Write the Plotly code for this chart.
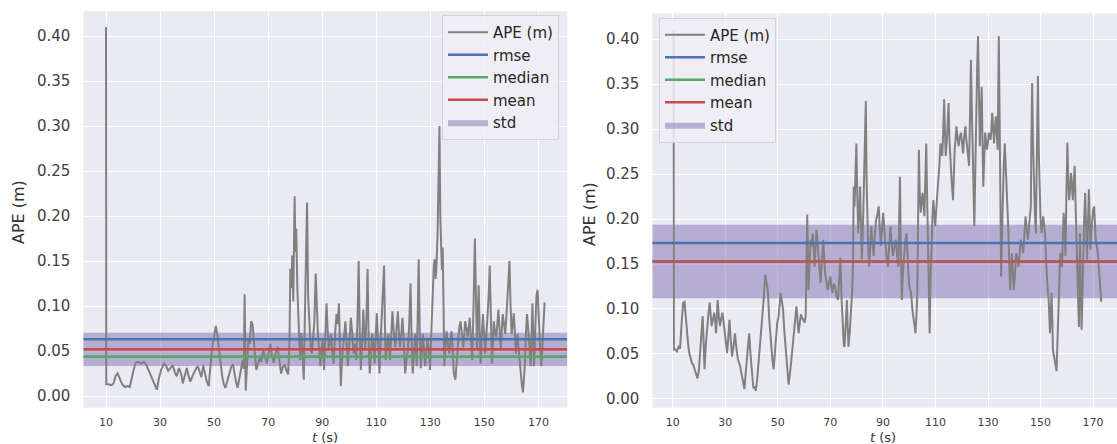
import plotly.graph_objects as go

# ---------------- data ----------------
t_left = [10.0, 10.1, 11, 12, 12.8, 13.5, 14.3, 15.2, 16, 17, 18, 18.8, 19.5, 20.3, 21, 22, 23, 24, 25, 26, 27, 28, 28.8, 29.6, 30.5, 31.5, 32.3, 33, 34, 34.7, 35.5, 36.2, 37, 37.8, 38.4, 39.2, 39.9, 40.6, 41.2, 42, 42.6, 43.4, 44, 44.7, 45.3, 46, 46.6, 47.2, 48, 48.6, 49.2, 50, 50.6, 51.2, 51.8, 52.4, 53, 53.6, 54.2, 55, 55.7, 56.4, 57, 57.6, 58.1, 58.7, 59.4, 60, 60.6, 61.0, 61.3, 61.7, 62.2, 62.7, 63.2, 63.7, 64.2, 64.7, 65.2, 65.6, 66.2, 66.9, 67.5, 68.2, 68.8, 69.5, 70.1, 70.8, 71.4, 72.1, 72.8, 73.5, 74.1, 74.8, 75.4, 76.1, 76.8, 77.4, 77.9, 78.2, 78.6, 78.9, 79.3, 79.8, 80.1, 80.4, 80.8, 81.1, 81.5, 81.8, 82.3, 82.8, 83.2, 83.6, 83.9, 84.4, 84.8, 85.3, 85.8, 86.2, 86.7, 87.1, 87.6, 88.0, 88.4, 88.9, 89.3, 89.8, 90.2, 90.7, 91.2, 91.6, 92.0, 92.4, 92.9, 93.3, 93.8, 94.2, 94.8, 95.3, 95.8, 96.2, 96.6, 96.9, 97.3, 97.7, 98.2, 98.6, 99.1, 99.5, 100.1, 100.6, 101.1, 101.6, 102.1, 102.6, 103.1, 103.5, 103.9, 104.3, 104.8, 105.2, 105.6, 105.9, 106.4, 106.8, 107.2, 107.6, 108.1, 108.5, 109.0, 109.4, 109.8, 110.2, 110.7, 111.2, 111.6, 112.0, 112.5, 112.9, 113.2, 113.5, 114.0, 114.5, 115.1, 115.5, 116.0, 116.5, 117.1, 117.5, 118.0, 118.4, 118.8, 119.3, 119.7, 120.2, 120.7, 121.2, 121.7, 122.2, 122.7, 123.1, 123.5, 124.0, 124.4, 124.7, 125.0, 125.4, 125.7, 126.1, 126.5, 126.9, 127.3, 127.7, 128.1, 128.6, 129.0, 129.5, 129.9, 130.5, 131.0, 131.3, 131.6, 132.0, 132.3, 132.7, 133.0, 133.2, 133.4, 133.7, 133.9, 134.3, 134.6, 134.9, 135.2, 135.6, 136.0, 136.5, 137.0, 137.4, 137.9, 138.3, 138.7, 139.3, 139.8, 140.2, 140.7, 141.2, 141.7, 142.2, 142.6, 142.9, 143.4, 143.8, 144.2, 144.6, 145.0, 145.5, 146.0, 146.5, 146.9, 147.3, 147.6, 147.9, 148.3, 148.6, 149.0, 149.5, 149.9, 150.3, 150.7, 151.1, 151.6, 152.0, 152.4, 152.8, 153.2, 153.5, 154.0, 154.4, 154.8, 155.2, 155.7, 156.1, 156.5, 156.8, 157.3, 157.7, 158.1, 158.5, 158.9, 159.3, 159.7, 160.1, 160.5, 160.9, 161.3, 161.7, 162.0, 162.3, 162.9, 163.4, 163.9, 164.3, 164.7, 165.0, 165.4, 165.8, 166.1, 166.4, 166.8, 167.2, 167.5, 167.8, 168.1, 168.4, 168.8, 169.3, 169.7, 170.0, 170.3, 170.7, 171.1, 171.5, 172.0, 172.3]
ape_left = [0.410, 0.013, 0.013, 0.012, 0.014, 0.022, 0.025, 0.018, 0.013, 0.010, 0.011, 0.010, 0.020, 0.030, 0.037, 0.038, 0.036, 0.038, 0.034, 0.027, 0.020, 0.014, 0.007, 0.020, 0.030, 0.036, 0.033, 0.028, 0.032, 0.034, 0.026, 0.022, 0.031, 0.025, 0.014, 0.024, 0.031, 0.022, 0.016, 0.022, 0.026, 0.031, 0.033, 0.025, 0.021, 0.034, 0.026, 0.017, 0.011, 0.030, 0.052, 0.066, 0.078, 0.068, 0.052, 0.035, 0.022, 0.013, 0.009, 0.018, 0.027, 0.033, 0.035, 0.024, 0.016, 0.009, 0.022, 0.031, 0.040, 0.030, 0.113, 0.006, 0.045, 0.064, 0.058, 0.083, 0.080, 0.060, 0.042, 0.029, 0.035, 0.042, 0.038, 0.051, 0.044, 0.036, 0.047, 0.058, 0.045, 0.037, 0.048, 0.055, 0.040, 0.025, 0.032, 0.035, 0.028, 0.024, 0.060, 0.141, 0.120, 0.156, 0.105, 0.222, 0.160, 0.186, 0.120, 0.100, 0.060, 0.040, 0.070, 0.045, 0.018, 0.090, 0.150, 0.215, 0.110, 0.072, 0.050, 0.047, 0.070, 0.083, 0.136, 0.090, 0.069, 0.050, 0.033, 0.055, 0.062, 0.029, 0.070, 0.103, 0.075, 0.051, 0.062, 0.069, 0.045, 0.036, 0.070, 0.091, 0.080, 0.103, 0.050, 0.011, 0.040, 0.058, 0.070, 0.083, 0.060, 0.033, 0.060, 0.087, 0.070, 0.047, 0.058, 0.040, 0.090, 0.150, 0.070, 0.029, 0.060, 0.096, 0.070, 0.051, 0.090, 0.141, 0.060, 0.025, 0.050, 0.069, 0.055, 0.036, 0.065, 0.092, 0.060, 0.025, 0.060, 0.091, 0.110, 0.145, 0.080, 0.040, 0.055, 0.069, 0.040, 0.070, 0.094, 0.070, 0.054, 0.075, 0.094, 0.070, 0.054, 0.070, 0.087, 0.060, 0.025, 0.040, 0.051, 0.080, 0.125, 0.060, 0.025, 0.050, 0.069, 0.050, 0.033, 0.100, 0.152, 0.070, 0.031, 0.050, 0.069, 0.050, 0.033, 0.050, 0.065, 0.050, 0.029, 0.080, 0.130, 0.145, 0.152, 0.130, 0.145, 0.180, 0.232, 0.270, 0.300, 0.200, 0.174, 0.140, 0.165, 0.080, 0.033, 0.055, 0.072, 0.058, 0.047, 0.060, 0.072, 0.050, 0.025, 0.018, 0.040, 0.065, 0.075, 0.083, 0.065, 0.054, 0.070, 0.083, 0.075, 0.065, 0.075, 0.087, 0.065, 0.040, 0.100, 0.175, 0.110, 0.051, 0.090, 0.123, 0.070, 0.036, 0.065, 0.091, 0.070, 0.047, 0.065, 0.083, 0.110, 0.145, 0.080, 0.036, 0.060, 0.083, 0.070, 0.065, 0.080, 0.096, 0.070, 0.051, 0.075, 0.091, 0.080, 0.069, 0.085, 0.103, 0.120, 0.150, 0.100, 0.069, 0.080, 0.092, 0.070, 0.047, 0.060, 0.069, 0.045, 0.025, 0.012, 0.004, 0.020, 0.036, 0.070, 0.091, 0.080, 0.069, 0.050, 0.033, 0.070, 0.103, 0.070, 0.033, 0.070, 0.112, 0.118, 0.095, 0.072, 0.050, 0.033, 0.060, 0.094, 0.104]

t_right = [10.3, 10.45, 11, 11.6, 12.2, 12.8, 13.4, 14.0, 14.5, 15.0, 15.4, 15.9, 16.3, 16.8, 17.3, 17.8, 18.4, 18.9, 19.4, 19.9, 20.3, 20.9, 21.4, 21.8, 22.1, 22.6, 23.1, 23.6, 24.1, 24.5, 24.8, 25.3, 25.8, 26.2, 26.5, 26.8, 27.1, 27.6, 28.0, 28.5, 28.9, 29.4, 29.9, 30.3, 30.7, 31.2, 31.6, 32.1, 32.6, 33.2, 33.7, 34.3, 34.8, 35.3, 35.7, 36.2, 36.7, 37.3, 37.8, 38.2, 38.7, 39.1, 39.6, 40.1, 40.4, 40.7, 41.2, 41.6, 42.1, 42.5, 43.0, 43.5, 44.0, 44.6, 45.2, 45.7, 46.2, 46.7, 47.3, 47.9, 48.4, 48.9, 49.3, 49.8, 50.3, 50.7, 51.1, 51.6, 52.0, 52.5, 53.0, 53.6, 54.1, 54.7, 55.2, 55.7, 56.1, 56.6, 57.1, 57.5, 57.9, 58.4, 58.8, 59.3, 59.8, 60.2, 60.6, 60.9, 61.2, 61.5, 61.7, 62.1, 62.5, 62.9, 63.3, 63.7, 64.0, 64.4, 64.7, 65.1, 65.5, 65.9, 66.3, 66.8, 67.3, 67.6, 68.0, 68.5, 69.0, 69.5, 70.0, 70.4, 70.8, 71.3, 71.8, 72.3, 72.9, 73.3, 73.8, 74.3, 74.8, 75.1, 75.4, 75.8, 76.3, 76.6, 76.9, 77.4, 77.9, 78.3, 78.6, 78.9, 79.2, 79.6, 79.9, 80.3, 80.6, 81.0, 81.3, 81.7, 82.0, 82.4, 82.7, 83.1, 83.5, 83.8, 84.0, 84.4, 84.8, 85.2, 85.6, 86.0, 86.5, 86.9, 87.4, 87.9, 88.4, 88.8, 89.2, 89.7, 90.1, 90.6, 91.1, 91.5, 91.9, 92.4, 92.9, 93.3, 93.8, 94.3, 94.9, 95.4, 95.9, 96.2, 96.5, 96.8, 97.2, 97.6, 98.0, 98.5, 99.0, 99.4, 99.9, 100.3, 100.7, 101.2, 101.7, 102.0, 102.4, 102.8, 103.1, 103.4, 103.7, 104.0, 104.4, 104.8, 105.1, 105.5, 105.8, 106.1, 106.5, 106.8, 107.1, 107.5, 107.8, 108.1, 108.5, 108.9, 109.2, 109.6, 109.9, 110.4, 111.0, 111.5, 111.9, 112.2, 112.6, 113.0, 113.3, 113.6, 113.9, 114.4, 115.0, 115.3, 115.7, 116.2, 116.7, 117.0, 117.3, 117.7, 118.0, 118.4, 118.8, 119.2, 119.7, 120.1, 120.5, 120.9, 121.4, 121.7, 122.1, 122.5, 122.8, 123.2, 123.5, 123.8, 124.1, 124.5, 124.8, 125.2, 125.5, 125.9, 126.2, 126.6, 126.9, 127.2, 127.6, 127.9, 128.2, 128.6, 128.9, 129.3, 129.6, 130.0, 130.3, 130.6, 131.0, 131.3, 131.6, 132.0, 132.3, 132.6, 133.0, 133.3, 133.7, 133.9, 134.1, 134.4, 134.6, 134.8, 135.0, 135.3, 135.7, 136.0, 136.4, 136.8, 137.1, 137.4, 137.8, 138.1, 138.4, 138.8, 139.1, 139.5, 139.8, 140.3, 140.7, 141.2, 141.6, 142.0, 142.5, 143.0, 143.4, 143.8, 144.3, 144.7, 145.2, 145.7, 146.3, 146.5, 146.8, 147.1, 147.5, 147.8, 148.2, 148.6, 149.0, 149.3, 149.7, 150.0, 150.4, 150.7, 151.0, 151.3, 151.7, 152.1, 152.5, 152.8, 153.1, 153.3, 153.6, 153.9, 154.2, 154.5, 154.7, 155.1, 155.4, 155.8, 156.1, 156.4, 156.8, 157.1, 157.5, 157.8, 158.2, 158.5, 158.8, 159.2, 159.5, 159.8, 160.0, 160.2, 160.6, 160.9, 161.3, 161.6, 162.0, 162.3, 162.6, 163.0, 163.3, 163.6, 164.0, 164.3, 164.6, 164.8, 165.0, 165.3, 165.6, 166.0, 166.3, 166.6, 167.0, 167.3, 167.7, 168.0, 168.4, 168.7, 169.0, 169.3, 169.7, 170.0, 170.4, 170.7, 171.0, 171.4, 171.8, 172.1, 172.4, 172.8, 173.1]
ape_right = [0.410, 0.055, 0.055, 0.053, 0.058, 0.056, 0.085, 0.107, 0.108, 0.090, 0.073, 0.060, 0.051, 0.046, 0.040, 0.038, 0.033, 0.028, 0.023, 0.030, 0.044, 0.070, 0.092, 0.060, 0.033, 0.060, 0.081, 0.095, 0.107, 0.090, 0.081, 0.088, 0.096, 0.085, 0.073, 0.090, 0.110, 0.090, 0.081, 0.090, 0.096, 0.085, 0.073, 0.060, 0.051, 0.070, 0.088, 0.065, 0.047, 0.060, 0.073, 0.055, 0.044, 0.040, 0.036, 0.028, 0.021, 0.011, 0.030, 0.044, 0.060, 0.073, 0.050, 0.033, 0.020, 0.012, 0.014, 0.009, 0.020, 0.033, 0.055, 0.073, 0.090, 0.110, 0.138, 0.128, 0.121, 0.090, 0.062, 0.045, 0.033, 0.055, 0.073, 0.085, 0.092, 0.105, 0.118, 0.108, 0.099, 0.075, 0.055, 0.030, 0.016, 0.030, 0.044, 0.060, 0.077, 0.090, 0.103, 0.088, 0.073, 0.085, 0.094, 0.090, 0.088, 0.085, 0.092, 0.150, 0.205, 0.160, 0.121, 0.150, 0.177, 0.170, 0.184, 0.165, 0.147, 0.170, 0.188, 0.175, 0.159, 0.145, 0.129, 0.155, 0.177, 0.160, 0.140, 0.130, 0.121, 0.130, 0.136, 0.125, 0.118, 0.128, 0.125, 0.115, 0.110, 0.130, 0.157, 0.110, 0.073, 0.060, 0.058, 0.085, 0.110, 0.080, 0.058, 0.075, 0.096, 0.120, 0.147, 0.236, 0.214, 0.250, 0.284, 0.220, 0.184, 0.210, 0.236, 0.190, 0.155, 0.190, 0.221, 0.260, 0.331, 0.240, 0.203, 0.170, 0.147, 0.170, 0.192, 0.175, 0.159, 0.180, 0.199, 0.205, 0.214, 0.190, 0.170, 0.190, 0.207, 0.185, 0.166, 0.155, 0.147, 0.170, 0.192, 0.175, 0.159, 0.168, 0.177, 0.160, 0.147, 0.200, 0.247, 0.170, 0.110, 0.140, 0.162, 0.175, 0.184, 0.155, 0.129, 0.122, 0.118, 0.100, 0.088, 0.080, 0.073, 0.095, 0.118, 0.200, 0.277, 0.230, 0.207, 0.220, 0.229, 0.215, 0.203, 0.240, 0.284, 0.230, 0.184, 0.120, 0.073, 0.130, 0.184, 0.205, 0.221, 0.205, 0.192, 0.215, 0.236, 0.260, 0.284, 0.275, 0.270, 0.300, 0.333, 0.300, 0.270, 0.290, 0.329, 0.290, 0.259, 0.240, 0.221, 0.250, 0.277, 0.290, 0.303, 0.290, 0.281, 0.290, 0.296, 0.285, 0.273, 0.290, 0.303, 0.290, 0.281, 0.270, 0.259, 0.320, 0.377, 0.330, 0.288, 0.240, 0.192, 0.260, 0.333, 0.370, 0.403, 0.340, 0.281, 0.310, 0.347, 0.290, 0.236, 0.270, 0.296, 0.285, 0.277, 0.285, 0.296, 0.292, 0.288, 0.300, 0.318, 0.300, 0.284, 0.300, 0.314, 0.295, 0.277, 0.340, 0.403, 0.320, 0.259, 0.200, 0.136, 0.180, 0.233, 0.260, 0.284, 0.260, 0.236, 0.210, 0.184, 0.150, 0.121, 0.140, 0.162, 0.140, 0.121, 0.140, 0.162, 0.155, 0.147, 0.160, 0.177, 0.170, 0.162, 0.180, 0.203, 0.190, 0.177, 0.195, 0.214, 0.280, 0.351, 0.290, 0.236, 0.210, 0.184, 0.270, 0.359, 0.280, 0.221, 0.200, 0.184, 0.195, 0.203, 0.195, 0.184, 0.155, 0.125, 0.118, 0.110, 0.090, 0.073, 0.095, 0.118, 0.085, 0.055, 0.048, 0.044, 0.036, 0.031, 0.060, 0.088, 0.125, 0.162, 0.155, 0.147, 0.180, 0.207, 0.185, 0.159, 0.220, 0.260, 0.285, 0.240, 0.221, 0.235, 0.251, 0.235, 0.221, 0.240, 0.259, 0.220, 0.184, 0.140, 0.092, 0.080, 0.140, 0.184, 0.130, 0.077, 0.120, 0.170, 0.200, 0.229, 0.190, 0.155, 0.190, 0.233, 0.200, 0.166, 0.185, 0.207, 0.210, 0.214, 0.195, 0.177, 0.170, 0.162, 0.150, 0.133, 0.118, 0.108]

stat_names = ["rmse", "median", "mean", "std"]
stats_left = {"rmse": 0.0630, "median": 0.0437, "mean": 0.0518, "std": 0.0370}
stats_right = {"rmse": 0.1733, "median": 0.1528, "mean": 0.1528, "std": 0.0815}

x_ticks = [10, 30, 50, 70, 90, 110, 130, 150, 170]
y_ticks = [0.00, 0.05, 0.10, 0.15, 0.20, 0.25, 0.30, 0.35, 0.40]

# ---------------- style ----------------
FONT = "DejaVu Sans"
BG = "#EAEAF2"
STAT_COLORS = {"rmse": "#4C72B0", "median": "#55A868", "mean": "#C44E52",
               "std": "rgba(129,114,178,0.5)"}

W, H = 1117, 444
panels = [
    dict(t=t_left, v=ape_left, stats=stats_left, xr=[1.6, 180.7], yr=[-0.0130, 0.4278],
         xdom=[83.3 / W, 567.3 / W], ydom=[1 - 407.7 / H, 1 - 11.0 / H],
         legend=dict(x=442 / W, y=1 - 15 / H), ytitle=(18, 212), xtitle=(325, 437)),
    dict(t=t_right, v=ape_right, stats=stats_right, xr=[2.23, 179.1], yr=[-0.0097, 0.4286],
         xdom=[652.3 / W, 1.0], ydom=[1 - 407.7 / H, 1 - 13.3 / H],
         legend=dict(x=659 / W, y=1 - 17.5 / H), ytitle=(590, 214), xtitle=(883, 437)),
]

fig = go.Figure()
layout = dict(
    width=W, height=H, margin=dict(l=0, r=0, t=0, b=0),
    paper_bgcolor="white", plot_bgcolor=BG,
    font=dict(family=FONT, color="#333333"),
    annotations=[],
)

for i, p in enumerate(panels):
    sfx = "" if i == 0 else str(i + 1)
    xa, ya = "x" + sfx, "y" + sfx
    lg = "legend" + sfx
    x0, x1 = p["xr"]
    st = p["stats"]
    # std band drawn first (underneath lines, like matplotlib patch z-order)
    lo = st["mean"] - st["std"] / 2
    hi = st["mean"] + st["std"] / 2
    fig.add_trace(go.Scatter(x=[x0, x1, x1, x0, x0], y=[lo, lo, hi, hi, lo], mode="lines",
                             fill="toself", fillcolor=STAT_COLORS["std"], name="std",
                             line=dict(width=0, color="rgba(0,0,0,0)"),
                             xaxis=xa, yaxis=ya, legend=lg, legendrank=5))
    fig.add_trace(go.Scatter(x=p["t"], y=p["v"], mode="lines", name="APE (m)",
                             line=dict(color="#808080", width=2.0),
                             xaxis=xa, yaxis=ya, legend=lg, legendrank=1))
    for k, nm in enumerate(["rmse", "median", "mean"]):
        fig.add_trace(go.Scatter(x=[x0, x1], y=[st[nm], st[nm]], mode="lines", name=nm,
                                 line=dict(color=STAT_COLORS[nm], width=2.6),
                                 xaxis=xa, yaxis=ya, legend=lg, legendrank=2 + k))

    layout["xaxis" + sfx] = dict(domain=p["xdom"], range=p["xr"], anchor=ya,
                                tickvals=x_ticks, ticktext=[str(v) for v in x_ticks],
                                showgrid=True, gridcolor="white", gridwidth=1.2,
                                zeroline=False, showline=False, ticks="",
                                tickfont=dict(size=11, color="#404040"),
                                ticklabelstandoff=6)
    layout["yaxis" + sfx] = dict(domain=p["ydom"], range=p["yr"], anchor=xa,
                                tickvals=y_ticks, ticktext=["%.2f" % v for v in y_ticks],
                                showgrid=True, gridcolor="white", gridwidth=1.2,
                                zeroline=False, showline=False, ticks="",
                                tickfont=dict(size=15, color="#404040"),
                                ticklabelstandoff=12)
    layout[lg] = dict(x=p["legend"]["x"], y=p["legend"]["y"], xanchor="left", yanchor="top",
                      bgcolor="rgba(238,238,244,0.85)", bordercolor="#d2d2da", borderwidth=1,
                      font=dict(size=15, color="#262626", family=FONT),
                      tracegroupgap=0, itemwidth=40, traceorder="normal")
    layout["annotations"].append(dict(text="APE (m)", x=p["ytitle"][0] / W, y=1 - p["ytitle"][1] / H,
                                      xref="paper", yref="paper", textangle=-90, showarrow=False,
                                      xanchor="center", yanchor="middle",
                                      font=dict(size=16, color="#333333")))
    layout["annotations"].append(dict(text="<i>t</i> (s)", x=p["xtitle"][0] / W, y=1 - p["xtitle"][1] / H,
                                      xref="paper", yref="paper", showarrow=False,
                                      xanchor="center", yanchor="middle",
                                      font=dict(size=13, color="#333333")))

fig.update_layout(**layout)
fig.update_layout(showlegend=True)
fig.write_html("out.html", config={"displayModeBar": False},
               post_script="document.body.style.margin='0px';document.body.style.overflow='hidden';")
